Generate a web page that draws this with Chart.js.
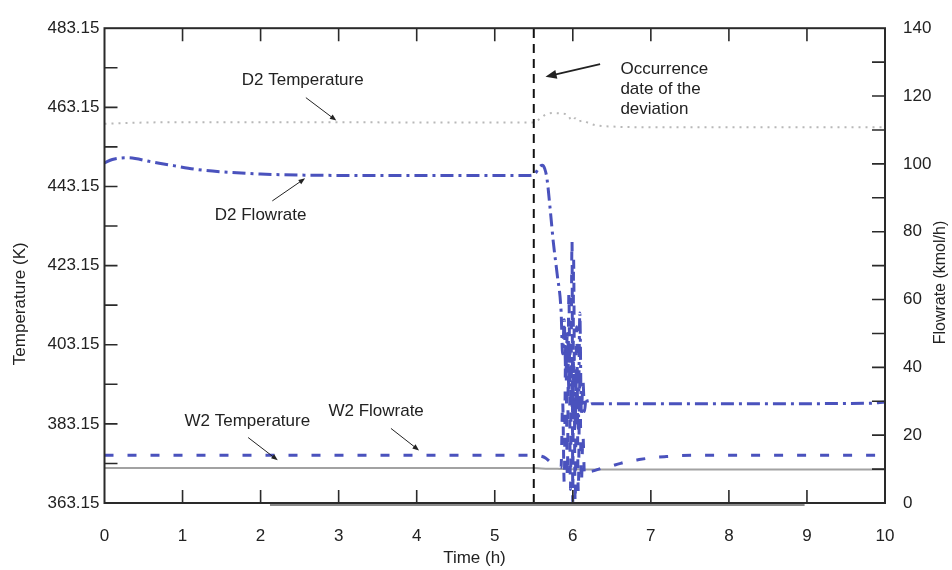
<!DOCTYPE html>
<html>
<head>
<meta charset="utf-8">
<script src="https://cdn.jsdelivr.net/npm/chart.js@4.4.0/dist/chart.umd.min.js"></script>
<style>
    html, body { margin: 0; padding: 0; background: #fff; }
    canvas { display: block; }
</style>
</head>
<body>
<canvas id="chartDesviacion" width="952" height="570"></canvas>
<script>
// Datos (tiempo en h, temperatura en K, flujo en kmol/h)
const tiempoD2Temp = [0, 0.5, 1, 2, 3, 4, 5, 5.5, 5.58, 5.65, 5.75, 5.85, 5.93, 5.97, 6.0, 6.03, 6.07, 6.12, 6.2, 6.3, 6.5, 7, 8, 9, 10];
const d2Temperatura = [459.0, 459.3, 459.4, 459.4, 459.4, 459.3, 459.3, 459.3, 460.3, 461.3, 461.7, 461.6, 461.3, 460.2, 459.8, 460.4, 459.6, 459.8, 459.2, 458.6, 458.3, 458.1, 458.1, 458.1, 458.1];

const tiempoW2Temp = [0, 5.5, 5.6, 5.8, 6.0, 6.5, 10];
const w2Temperatura = [372.0, 372.0, 371.9, 371.8, 371.7, 371.6, 371.6];

const tiempoD2Flujo = [0, 0.1, 0.3, 0.6, 0.9, 1.2, 1.6, 2.0, 2.5, 3, 4, 5, 5.45, 5.52, 5.57, 5.61, 5.64, 5.67, 5.71, 5.75,
    5.8, 5.85, 5.87, 5.89, 5.91, 5.93, 5.95, 5.97, 5.99, 6.01, 6.03, 6.05, 6.07, 6.09, 6.11, 6.13, 6.15, 6.17, 6.2, 6.25,
    7, 8, 9, 9.8, 10];
const d2Flujo = [100.3, 101.3, 101.8, 100.6, 99.4, 98.3, 97.5, 97.0, 96.7, 96.6, 96.6, 96.6, 96.6, 97.2, 99.0, 99.6, 98.6, 95.5, 86.7, 77.0,
    67.4, 56.5, 44, 54, 38, 50, 33, 46, 28, 42, 24, 40, 22, 56, 26, 36, 27, 31, 29, 29.3,
    29.3, 29.3, 29.3, 29.4, 29.8];

const tiempoW2Flujo = [0, 5.5, 5.6, 5.65, 5.7, 5.75, 5.8, 5.85, 5.87, 5.89, 5.91, 5.93, 5.95, 5.97, 5.99, 6.0, 6.01, 6.03, 6.05, 6.07,
    6.09, 6.11, 6.13, 6.15, 6.18, 6.25, 6.4, 6.55, 6.7, 6.85, 7.0, 7.2, 7.4, 8, 10];
const w2Flujo = [14.1, 14.1, 13.8, 13.3, 12.3, 11.2, 10.5, 10.5, 30, 6, 48, 8, 62, 4, 77.6, 0, 72, 0, 52, 3,
    36, 6, 20, 8, 9, 9.4, 10.5, 11.3, 12.2, 12.8, 13.3, 13.7, 14.0, 14.1, 14.1];

// Línea vertical: momento de la desviación
const tiempoEvento = [5.5, 5.5];
const tempEvento = [363.15, 483.15];

// Marcas de los ejes
const ticksTemperatura = [363.15, 373.15, 383.15, 393.15, 403.15, 413.15, 423.15, 433.15, 443.15, 453.15, 463.15, 473.15, 483.15];
const ticksFlujo = [0, 10, 20, 30, 40, 50, 60, 70, 80, 90, 100, 110, 120, 130, 140];
const ticksTiempo = [0, 1, 2, 3, 4, 5, 6, 7, 8, 9, 10];

const FUENTE = '"Liberation Sans", Arial, sans-serif';
const AZUL = '#4a52bd';

function combinar(xs, ys) {
    return xs.map((x, i) => ({ x: x, y: ys[i] }));
}

/**
 * Dibuja una flecha con punta rellena
 */
function flecha(ctx, x1, y1, x2, y2, tam, ancho) {
    const ang = Math.atan2(y2 - y1, x2 - x1);
    ctx.lineWidth = ancho;
    ctx.beginPath();
    ctx.moveTo(x1, y1);
    ctx.lineTo(x2 - Math.cos(ang) * tam * 0.8, y2 - Math.sin(ang) * tam * 0.8);
    ctx.stroke();
    ctx.beginPath();
    ctx.moveTo(x2, y2);
    ctx.lineTo(x2 - tam * Math.cos(ang - 0.38), y2 - tam * Math.sin(ang - 0.38));
    ctx.lineTo(x2 - tam * Math.cos(ang + 0.38), y2 - tam * Math.sin(ang + 0.38));
    ctx.closePath();
    ctx.fill();
}

// Textos y flechas, en coordenadas de los datos (tiempo, temperatura)
const anotaciones = [
    { lineas: ['D2 Temperature'], t: 2.54, temp: 470.1, align: 'center', desde: [2.58, 465.6], hasta: [2.97, 459.8], tam: 7, ancho: 1 },
    { lineas: ['D2 Flowrate'], t: 2.0, temp: 435.95, align: 'center', desde: [2.15, 439.5], hasta: [2.57, 445.2], tam: 7, ancho: 1 },
    { lineas: ['W2 Temperature'], t: 1.83, temp: 383.7, align: 'center', desde: [1.84, 379.7], hasta: [2.22, 373.95], tam: 7, ancho: 1 },
    { lineas: ['W2 Flowrate'], t: 3.48, temp: 386.2, align: 'center', desde: [3.67, 382.0], hasta: [4.03, 376.45], tam: 7, ancho: 1 },
    { lineas: ['Occurrence', 'date of the', 'deviation'], t: 6.61, temp: 472.86, align: 'left', desde: [6.35, 474.1], hasta: [5.65, 470.85], tam: 12, ancho: 1.8 }
];

const pluginDecoracion = {
    id: 'decoracion',
    afterDraw(chart) {
        const ctx = chart.ctx;
        const area = chart.chartArea;
        const x = chart.scales.x;
        const yT = chart.scales.yTemp;
        const yF = chart.scales.yFlujo;
        const largo = 13;

        ctx.save();
        ctx.strokeStyle = '#2a2a2a';
        ctx.fillStyle = '#2a2a2a';

        // Marco de la gráfica
        ctx.lineWidth = 2;
        ctx.strokeRect(area.left, area.top, area.right - area.left, area.bottom - area.top);

        // Marcas hacia dentro
        ctx.lineWidth = 1.6;
        ctx.beginPath();
        ticksTiempo.forEach(v => {
            if (v <= x.min || v >= x.max) return;
            const px = x.getPixelForValue(v);
            ctx.moveTo(px, area.bottom); ctx.lineTo(px, area.bottom - largo);
            ctx.moveTo(px, area.top); ctx.lineTo(px, area.top + largo);
        });
        ticksTemperatura.forEach(v => {
            if (v <= yT.min || v >= yT.max) return;
            const py = yT.getPixelForValue(v);
            ctx.moveTo(area.left, py); ctx.lineTo(area.left + largo, py);
        });
        ticksFlujo.forEach(v => {
            if (v <= yF.min || v >= yF.max) return;
            const py = yF.getPixelForValue(v);
            ctx.moveTo(area.right, py); ctx.lineTo(area.right - largo, py);
        });
        ctx.stroke();

        // Sombra gris bajo el eje (tal como aparece en la figura)
        ctx.strokeStyle = '#8a8a8a';
        ctx.lineWidth = 2;
        ctx.beginPath();
        ctx.moveTo(x.getPixelForValue(2.12), area.bottom + 2);
        ctx.lineTo(x.getPixelForValue(8.97), area.bottom + 2);
        ctx.stroke();

        // Títulos de los ejes
        ctx.fillStyle = '#222';
        ctx.textAlign = 'center';
        ctx.textBaseline = 'middle';
        ctx.font = '17px ' + FUENTE;
        ctx.fillText('Time (h)', x.getPixelForValue(4.74), 558);

        ctx.save();
        ctx.translate(20, yT.getPixelForValue(413.5));
        ctx.rotate(-Math.PI / 2);
        ctx.font = '17px ' + FUENTE;
        ctx.fillText('Temperature (K)', 0, 0);
        ctx.restore();

        ctx.save();
        ctx.translate(941, yF.getPixelForValue(65));
        ctx.rotate(-Math.PI / 2);
        ctx.font = '16px ' + FUENTE;
        ctx.fillText('Flowrate (kmol/h)', 0, 0);
        ctx.restore();

        // Anotaciones
        ctx.font = '17px ' + FUENTE;
        ctx.strokeStyle = '#222';
        anotaciones.forEach(a => {
            ctx.textAlign = a.align;
            const px = x.getPixelForValue(a.t);
            const py = yT.getPixelForValue(a.temp);
            a.lineas.forEach((l, i) => ctx.fillText(l, px, py + i * 20));
            flecha(ctx,
                x.getPixelForValue(a.desde[0]), yT.getPixelForValue(a.desde[1]),
                x.getPixelForValue(a.hasta[0]), yT.getPixelForValue(a.hasta[1]),
                a.tam, a.ancho);
        });
        ctx.restore();
    }
};

function crearGrafica() {
    const ctx = document.getElementById('chartDesviacion').getContext('2d');

    new Chart(ctx, {
        type: 'line',
        data: {
            datasets: [
                {
                    label: 'Deviation',
                    data: combinar(tiempoEvento, tempEvento),
                    yAxisID: 'yTemp',
                    borderColor: '#111',
                    borderWidth: 2,
                    borderDash: [9, 6],
                    tension: 0
                },
                {
                    label: 'D2 Flowrate',
                    data: combinar(tiempoD2Flujo, d2Flujo),
                    yAxisID: 'yFlujo',
                    borderColor: AZUL,
                    borderWidth: 3,
                    borderDash: [13, 5, 3, 5],
                    cubicInterpolationMode: 'monotone'
                },
                {
                    label: 'W2 Flowrate',
                    data: combinar(tiempoW2Flujo, w2Flujo),
                    yAxisID: 'yFlujo',
                    borderColor: AZUL,
                    borderWidth: 3,
                    borderDash: [9, 14],
                    cubicInterpolationMode: 'monotone'
                },
                {
                    label: 'D2 Temperature',
                    data: combinar(tiempoD2Temp, d2Temperatura),
                    yAxisID: 'yTemp',
                    borderColor: '#b8b8b8',
                    borderWidth: 2,
                    borderDash: [2, 5],
                    cubicInterpolationMode: 'monotone'
                },
                {
                    label: 'W2 Temperature',
                    data: combinar(tiempoW2Temp, w2Temperatura),
                    yAxisID: 'yTemp',
                    borderColor: '#a2a2a2',
                    borderWidth: 2,
                    cubicInterpolationMode: 'monotone'
                }
            ]
        },
        options: {
            responsive: false,
            animation: false,
            layout: { padding: { top: 25 } },
            elements: { point: { radius: 0 } },
            plugins: {
                legend: { display: false },
                tooltip: { enabled: false }
            },
            scales: {
                x: {
                    type: 'linear',
                    position: 'bottom',
                    min: 0,
                    max: 10,
                    afterBuildTicks: s => { s.ticks = ticksTiempo.map(v => ({ value: v })); },
                    afterFit: s => { s.height = 67; },
                    grid: { display: false, drawTicks: false },
                    border: { display: false },
                    ticks: {
                        autoSkip: false,
                        maxRotation: 0,
                        padding: 23,
                        color: '#222',
                        font: { family: FUENTE, size: 17 }
                    }
                },
                yTemp: {
                    type: 'linear',
                    position: 'left',
                    min: 363.15,
                    max: 483.15,
                    afterBuildTicks: s => { s.ticks = ticksTemperatura.map(v => ({ value: v })); },
                    afterFit: s => { s.width = 104.5; },
                    grid: { display: false, drawTicks: false },
                    border: { display: false },
                    ticks: {
                        autoSkip: false,
                        padding: 5,
                        color: '#222',
                        font: { family: FUENTE, size: 17 },
                        callback: (v, i) => (i % 2 === 0 ? v.toFixed(2) : '')
                    }
                },
                yFlujo: {
                    type: 'linear',
                    position: 'right',
                    min: 0,
                    max: 140,
                    afterBuildTicks: s => { s.ticks = ticksFlujo.map(v => ({ value: v })); },
                    afterFit: s => { s.width = 67; },
                    grid: { display: false, drawTicks: false },
                    border: { display: false },
                    ticks: {
                        autoSkip: false,
                        padding: 18,
                        color: '#222',
                        font: { family: FUENTE, size: 17 },
                        callback: (v, i) => (i % 2 === 0 ? String(v) : '')
                    }
                }
            }
        },
        plugins: [pluginDecoracion]
    });
}

crearGrafica();
</script>
</body>
</html>
